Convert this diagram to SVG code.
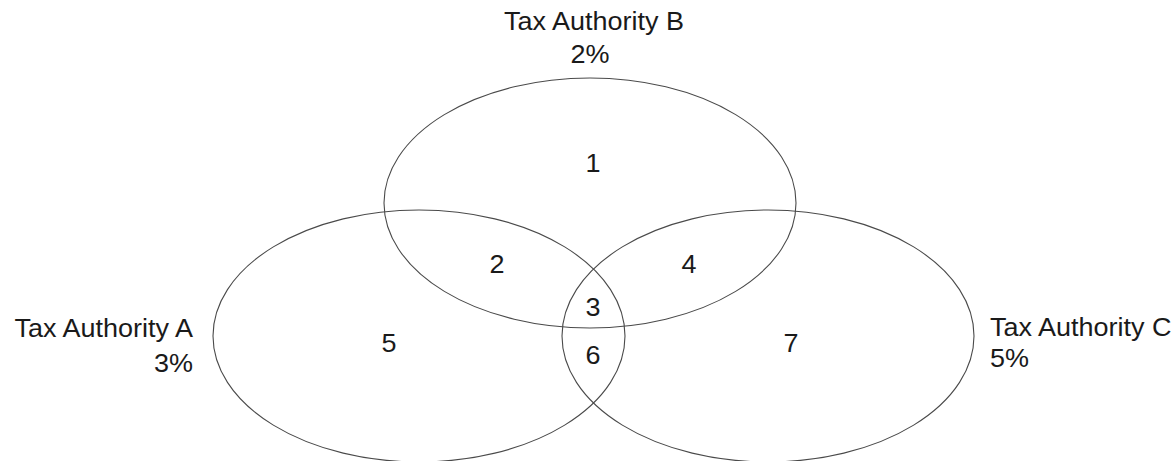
<svg xmlns="http://www.w3.org/2000/svg" width="1175" height="461" viewBox="0 0 1175 461">
<style>
.e{fill:none;stroke:#4a4a4a;stroke-width:1.1}
text{font-family:"Liberation Sans",Arial,sans-serif;font-size:25px;fill:#1a1a1a}
.m{text-anchor:middle}
.r{text-anchor:end}
</style>
<rect width="1175" height="461" fill="#fff"/>
<g id="setB">
<ellipse class="e" cx="590" cy="203" rx="206" ry="125"/>
<g transform="translate(594 30) scale(1.08 1)"><text class="m">Tax Authority B</text></g>
<g transform="translate(590 63) scale(1.08 1)"><text class="m">2%</text></g>
</g>
<g id="setA">
<ellipse class="e" cx="419" cy="336" rx="206" ry="126"/>
<g transform="translate(193 337) scale(1.08 1)"><text class="r">Tax Authority A</text></g>
<g transform="translate(193 372) scale(1.08 1)"><text class="r">3%</text></g>
</g>
<g id="setC">
<ellipse class="e" cx="768" cy="336" rx="206" ry="126"/>
<g transform="translate(990 336) scale(1.08 1)"><text>Tax Authority C</text></g>
<g transform="translate(990 367) scale(1.08 1)"><text>5%</text></g>
</g>
<g id="regions">
<g transform="translate(593 172) scale(1.08 1)"><text class="m">1</text></g>
<g transform="translate(497 273) scale(1.08 1)"><text class="m">2</text></g>
<g transform="translate(593 316) scale(1.08 1)"><text class="m">3</text></g>
<g transform="translate(689 273) scale(1.08 1)"><text class="m">4</text></g>
<g transform="translate(389 352) scale(1.08 1)"><text class="m">5</text></g>
<g transform="translate(593 364) scale(1.08 1)"><text class="m">6</text></g>
<g transform="translate(791 352) scale(1.08 1)"><text class="m">7</text></g>
</g>
<g id="connectors"></g>
</svg>
